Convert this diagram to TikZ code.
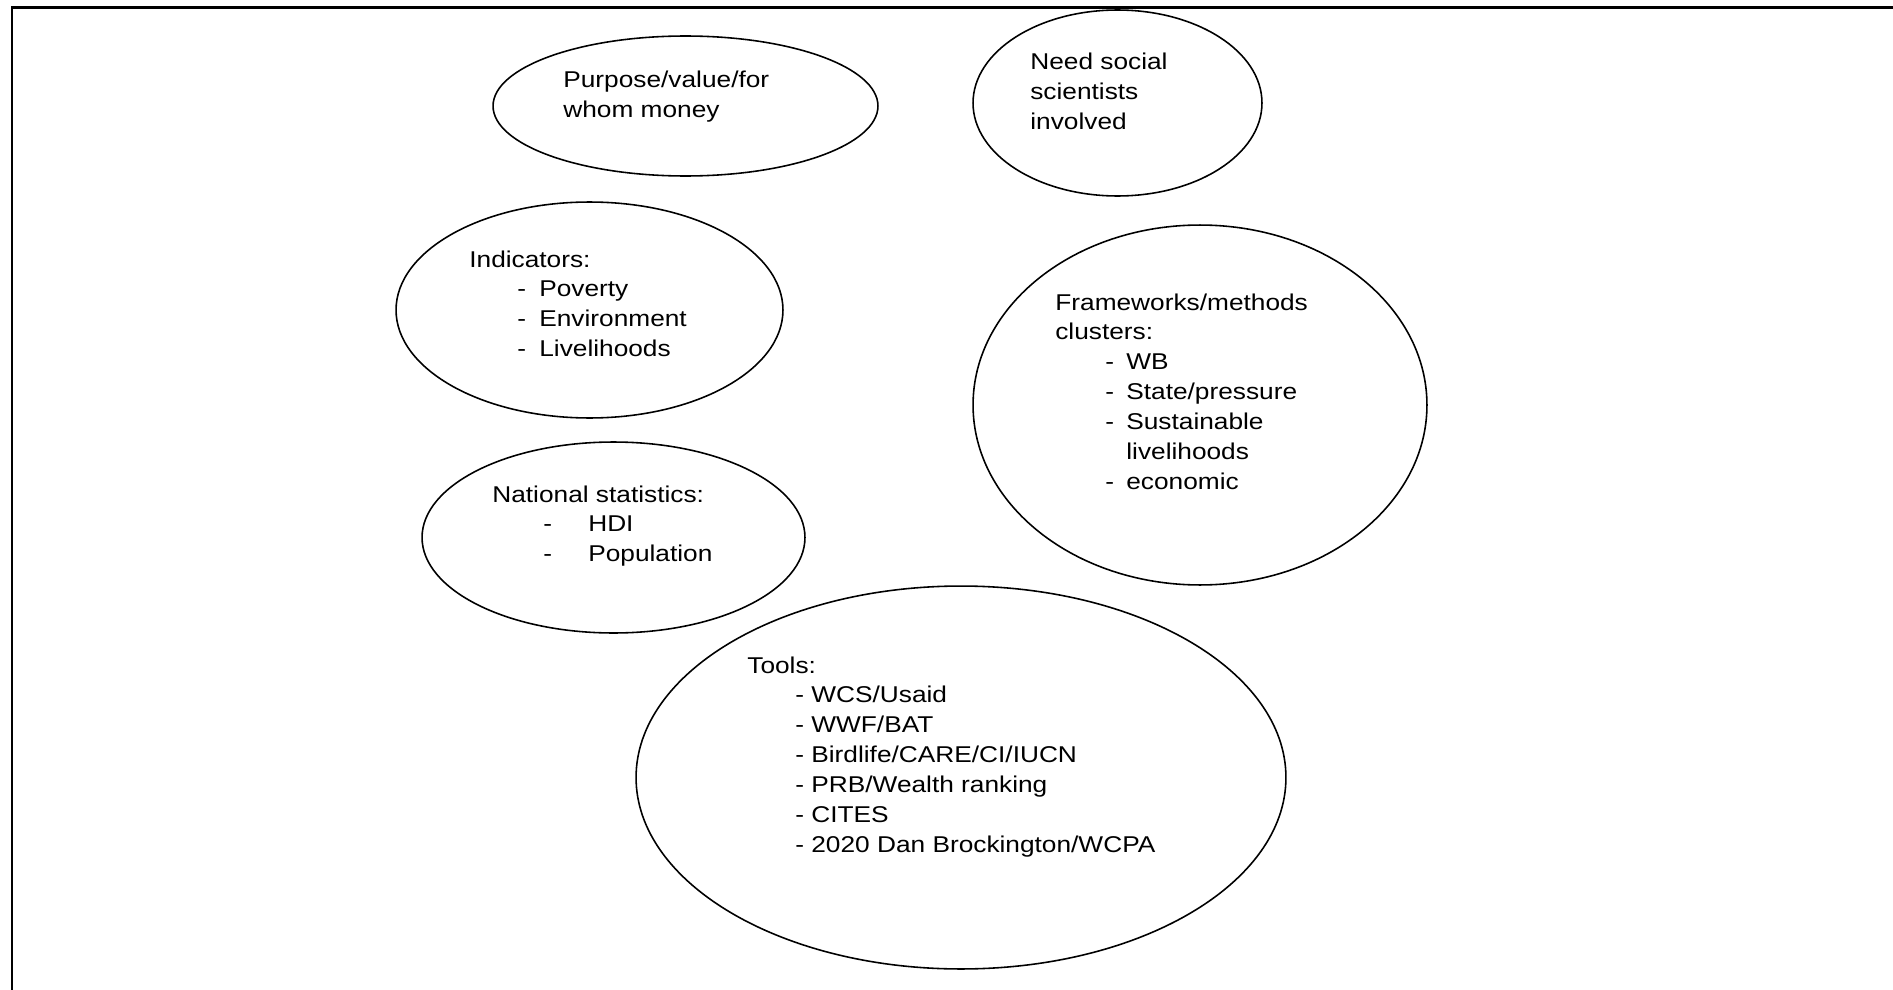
\documentclass[tikz,border=0pt]{standalone}
\usepackage{fontspec}
\setmainfont{Liberation Sans}
\newfontfamily\widefont[FakeStretch=1.15]{Liberation Sans}
\usetikzlibrary{shapes.geometric}

\newcommand{\itm}[3]{\hspace*{#1}\makebox[#2][l]{-}#3}

\begin{document}
\begin{tikzpicture}[x=0.02cm, y=-0.02cm,
    bubble/.style={draw, ellipse, line width=0.9pt, inner sep=0pt},
    txt/.style={anchor=base west, inner sep=0pt, font=\widefont\fontsize{13}{17.07}\selectfont}]
    \useasboundingbox (0,0) rectangle (1893,990);

    % frame
    \draw[line width=1.4pt] (1893,7.5) -| (12,990);

    % bubbles
    \node[bubble, minimum width=7.7cm, minimum height=2.8cm] (purpose) at (685.5,106) {};
    \node[bubble, minimum width=5.78cm, minimum height=3.72cm] (social) at (1117.5,103) {};
    \node[bubble, minimum width=7.74cm, minimum height=4.32cm] (indicators) at (589.5,310) {};
    \node[bubble, minimum width=9.08cm, minimum height=7.2cm] (frameworks) at (1200,405) {};
    \node[bubble, minimum width=7.66cm, minimum height=3.82cm] (national) at (613.5,537.5) {};
    \node[bubble, minimum width=13cm, minimum height=7.66cm] (tools) at (961,777.5) {};

    % texts
    \node[txt] (purposetxt) at (563,88) {\begin{tabular}[t]{@{}l@{}}
        Purpose/value/for\\
        whom money\end{tabular}};
    \node[txt] (socialtxt) at (1030,70) {\begin{tabular}[t]{@{}l@{}}
        Need social\\
        scientists\\
        involved\end{tabular}};
    \node[txt] (indicatorstxt) at (469,267) {\begin{tabular}[t]{@{}l@{}}
        Indicators:\\
        \itm{0.96cm}{0.44cm}{Poverty}\\
        \itm{0.96cm}{0.44cm}{Environment}\\
        \itm{0.96cm}{0.44cm}{Livelihoods}\end{tabular}};
    \node[txt] (frameworkstxt) at (1055,310) {\begin{tabular}[t]{@{}l@{}}
        Frameworks/methods\\
        clusters:\\
        \itm{1.0cm}{0.42cm}{WB}\\
        \itm{1.0cm}{0.42cm}{State/pressure}\\
        \itm{1.0cm}{0.42cm}{Sustainable}\\
        \hspace*{1.42cm}livelihoods\\
        \itm{1.0cm}{0.42cm}{economic}\end{tabular}};
    \node[txt] (nationaltxt) at (492,502) {\begin{tabular}[t]{@{}l@{}}
        National statistics:\\
        \itm{1.02cm}{0.9cm}{HDI}\\
        \itm{1.02cm}{0.9cm}{Population}\end{tabular}};
    \node[txt] (toolstxt) at (747,673) {\begin{tabular}[t]{@{}l@{}}
        Tools:\\
        \itm{0.96cm}{0.32cm}{WCS/Usaid}\\
        \itm{0.96cm}{0.32cm}{WWF/BAT}\\
        \itm{0.96cm}{0.32cm}{Birdlife/CARE/CI/IUCN}\\
        \itm{0.96cm}{0.32cm}{PRB/Wealth ranking}\\
        \itm{0.96cm}{0.32cm}{CITES}\\
        \itm{0.96cm}{0.32cm}{2020 Dan Brockington/WCPA}\end{tabular}};
\end{tikzpicture}
\end{document}
